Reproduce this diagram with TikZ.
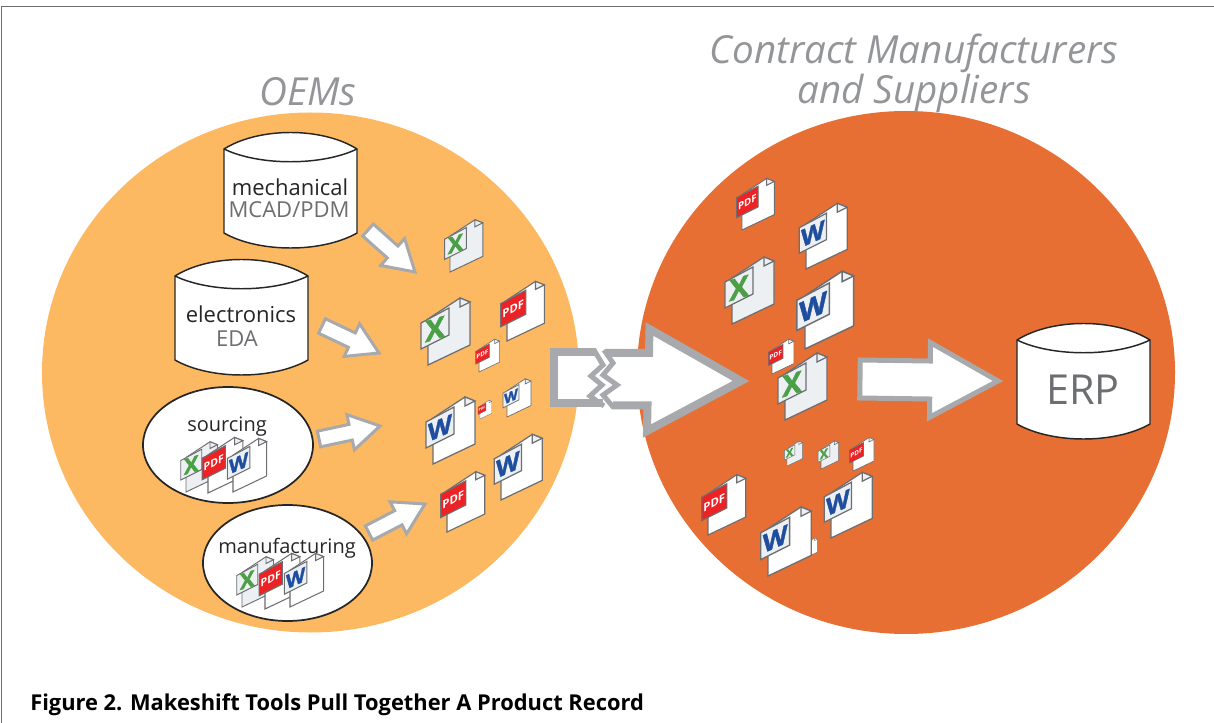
\documentclass[tikz,border=0pt]{standalone}
\usepackage{fontspec}
\setmainfont{Open Sans}
\newfontfamily\heavyfont[BoldFeatures={FakeBold=1.6}]{Open Sans}
\usetikzlibrary{calc}
\usetikzlibrary{shapes.geometric}
\definecolor{oemorange}{HTML}{FDB962}
\definecolor{cmorange}{HTML}{E86F33}
\definecolor{titlegray}{HTML}{939598}
\definecolor{arrowgray}{HTML}{A7A9AC}
\definecolor{docgray}{HTML}{6D6E71}
\definecolor{sheetgray}{HTML}{EDF0F2}
\definecolor{xgreen}{HTML}{4BA047}
\definecolor{wblue}{HTML}{1F4E9F}
\definecolor{pdfred}{HTML}{ED2224}
% sheet fill, badge fill
\newcommand{\docbody}[2]{
	\path[docline, fill=#1] (0,0) -- (0,-46) -- (32,-67) -- (42,-63) -- (42,-20) -- cycle;
	\path[docline, fill=sheetgray] (32,-67) -- (32,-58) -- (42,-63) -- cycle;
	\path[docline, fill=#2] (-7,-42) -- (21,-57) -- (21,-30) -- (-7,-16) -- cycle;
}
\tikzset{
	grouptitle/.style={text=titlegray, font=\fontsize{29}{29}\selectfont\itshape, inner sep=0pt},
	dbshape/.style={draw=black!85, fill=white, line width=1.1pt},
	oval/.style={draw=black!85, fill=white, line width=1.3pt, ellipse, inner sep=0pt},
	bigtext/.style={font=\fontsize{16.5}{16.5}\selectfont, text=black!85, inner sep=0pt},
	ovaltext/.style={font=\fontsize{15}{15}\selectfont, text=black!85, inner sep=0pt},
	subtext/.style={font=\fontsize{16.5}{16.5}\selectfont, text=docgray, inner sep=0pt},
	flowarrow/.style={draw=arrowgray, fill=white, miter limit=10},
	docline/.style={draw=docgray, line width=\sz*0.95pt, line join=miter},
	docglyph/.style={transform shape, inner sep=0pt},
	pics/database/.style={code={
		\draw[dbshape] (0,0) .. controls (35,-22) and (98,-22) .. (133,0) -- (133,84)
			.. controls (98,104) and (35,104) .. (0,84) -- cycle;
		\draw[dbshape, fill=none] (0,0) .. controls (35,17) and (98,17) .. (133,0);
	}},
	pics/xdoc/.style={code={
		\docbody{sheetgray}{sheetgray}
		\node[docglyph, yslant=0.3, text=xgreen, font=\fontsize{22}{22}\selectfont\heavyfont\bfseries] (glyph) at (7,-36) {X};
	}},
	pics/wdoc/.style={code={
		\docbody{white}{sheetgray}
		\node[docglyph, yslant=0.45, text=wblue, font=\fontsize{18.5}{18.5}\selectfont\heavyfont\bfseries] (glyph) at (7,-36) {W};
	}},
	pics/pdfdoc/.style={code={
		\docbody{white}{pdfred}
		\node[docglyph, yslant=0.5, text=white, font=\fontsize{9.5}{9.5}\selectfont\bfseries] (glyph) at (7,-36) {PDF};
	}},
}
% from, to, half shaft, half head, head length, line width
\newcommand{\blockarrow}[6]{
	\coordinate (hb) at ($(#2)!#5!(#1)$);
	\path[flowarrow, line width=#6] ($(#1)!#3!90:(#2)$) -- ($(hb)!#3!90:(#2)$) -- ($(hb)!#4!90:(#2)$) -- (#2)
		-- ($(hb)!#4!-90:(#2)$) -- ($(hb)!#3!-90:(#2)$) -- ($(#1)!#3!-90:(#2)$) -- cycle;
}

\begin{document}
\begin{tikzpicture}[x=0.75pt, y=-0.75pt]
\useasboundingbox (0,0) rectangle (1214,723);
\draw[docgray, line width=1pt] (1.5,723) -- (1.5,6.5) -- (1214,6.5);

\fill[oemorange] (310.5,372.5) ellipse [x radius=268.5, y radius=260];
\fill[cmorange] (906,372.5) ellipse [x radius=269, y radius=261.5];

\node[grouptitle] (oems) at (308,92) {OEMs};
\node[grouptitle, align=center, font=\fontsize{29}{28.5}\selectfont\itshape] (cms) at (914,73) {Contract Manufacturers\\and Suppliers};

\pic (mechdb) at (224,149) {database};
\pic (elecdb) at (175,276) {database};
\pic (erpdb) at (1017,340) {database};
\node[bigtext] (mech) at (290,187) {mechanical};
\node[subtext] (mcad) at (289,210) {MCAD/PDM};
\node[bigtext] (elec) at (241,314) {electronics};
\node[subtext] (eda) at (237,339) {EDA};
\node[subtext, font=\fontsize{31}{31}\selectfont] (erp) at (1083,390) {ERP};

\node[oval, minimum width=127.5pt, minimum height=87pt] (sourcing) at (228,445) {};
\node[oval, minimum width=126.75pt, minimum height=87pt] (manuf) at (287.5,563) {};
\node[ovaltext] (sourcetext) at (227,426.5) {sourcing};
\node[ovaltext] (manuftext) at (287,548.5) {manufacturing};

\foreach \kind/\xx/\yy/\sz [count=\i] in {
	xdoc/186/492/.75, pdfdoc/208/493/.83, wdoc/233/492/.8,
	xdoc/242/607/.75, pdfdoc/265/609/.83, wdoc/290/607/.8,
	xdoc/450/272/.78, xdoc/428/365/1, pdfdoc/507/341/.89, pdfdoc/479/372/.49,
	wdoc/433/464/1, pdfdoc/480/419/.28, wdoc/507/417/.57, wdoc/501/500/.98, pdfdoc/447/532/.9,
	pdfdoc/742/230/.77, wdoc/806/269/.98, xdoc/732/324/1, wdoc/805/349/1.16,
	pdfdoc/772/374/.52, xdoc/785/420/1,
	xdoc/787/466/.37, xdoc/821/469/.42, pdfdoc/853/471/.5,
	wdoc/831/538/.98, pdfdoc/708/535/.9, pdfdoc/805/558/.3, wdoc/768/576/1.03} {
	\pic[scale=\sz] (doc\i) at (\xx,\yy) {\kind};
}

\coordinate (mechout) at (368,230);
\coordinate (mechin) at (415,272);
\coordinate (elecout) at (322,326);
\coordinate (elecin) at (379,353);
\coordinate (sourceout) at (319,439);
\coordinate (sourcein) at (380,426);
\coordinate (manufout) at (369,533);
\coordinate (manufin) at (425,504);
\coordinate (docsout) at (860,379);
\coordinate (erpin) at (998,381);
\foreach \from/\to in {mechout/mechin, elecout/elecin, sourceout/sourcein, manufout/manufin} {
	\blockarrow{\from}{\to}{6pt}{13.5pt}{22.5pt}{2.25pt}
}
\blockarrow{docsout}{erpin}{14.25pt}{28pt}{51pt}{3.75pt}

% broken arrow across the gap
\fill[white] (596,352) -- (554,352) -- (554,403) -- (603,403)
	-- (590,396) -- (602,385) -- (591,376) -- (603,365) -- cycle;
\fill[white] (606,353) -- (649,353) -- (649.5,329) -- (741,381) -- (647,431)
	-- (647.5,405.5) -- (613,405.5) -- (603,395) -- (617,385) -- (603,375) -- (613,363) -- cycle;
\draw[arrowgray, line width=6pt, miter limit=10] (596,352) -- (554,352) -- (554,403) -- (603,403);
\draw[arrowgray, line width=6pt, miter limit=10] (606,353) -- (649,353) -- (649.5,329) -- (741,381) -- (647,431)
	-- (647.5,405.5) -- (613,405.5);
\draw[arrowgray, line width=3.75pt, miter limit=10] (594,350) -- (603,365) -- (591,376) -- (602,385) -- (590,396) -- (604,406);
\draw[arrowgray, line width=3.75pt, miter limit=10] (604,350) -- (613,363) -- (603,375) -- (617,385) -- (603,395) -- (614,408);

\node[anchor=base west, inner sep=0pt, font=\fontsize{16.4}{16.4}\selectfont\bfseries] (caption) at (30,710) {Figure 2. Makeshift Tools Pull Together A Product Record};
\end{tikzpicture}
\end{document}
